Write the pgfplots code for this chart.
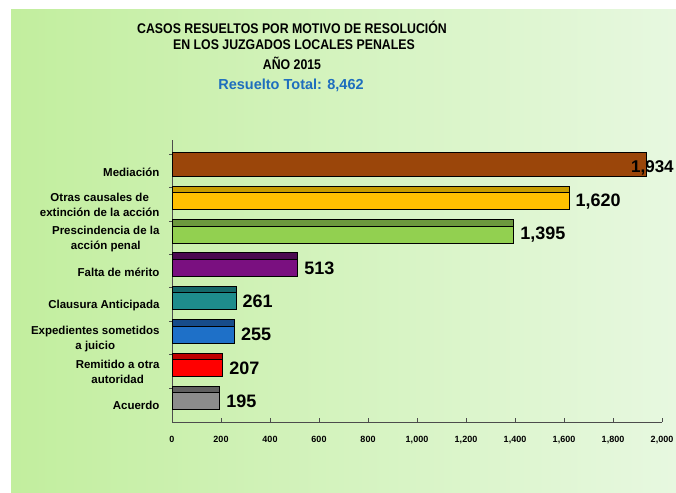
\documentclass[border=0pt]{standalone}
\usepackage{pgfplots}
\pgfplotsset{compat=1.18}
\usepackage{fontspec}
\setmainfont{Liberation Sans}
\newfontfamily\titlefont{Liberation Sans}[FakeStretch=0.88]
\definecolor{bgL}{RGB}{194,238,158}
\definecolor{bgR}{RGB}{231,248,224}
\definecolor{titleblue}{RGB}{30,110,190}
\definecolor{c1m}{RGB}{155,70,10}\definecolor{c1t}{RGB}{105,45,5}
\definecolor{c2m}{RGB}{255,192,0}\definecolor{c2t}{RGB}{200,158,0}
\definecolor{c3m}{RGB}{146,208,80}\definecolor{c3t}{RGB}{108,152,62}
\definecolor{c4m}{RGB}{122,16,128}\definecolor{c4t}{RGB}{75,10,80}
\definecolor{c5m}{RGB}{30,140,140}\definecolor{c5t}{RGB}{21,105,105}
\definecolor{c6m}{RGB}{30,112,200}\definecolor{c6t}{RGB}{23,76,138}
\definecolor{c7m}{RGB}{255,0,0}\definecolor{c7t}{RGB}{190,0,0}
\definecolor{c8m}{RGB}{140,140,140}\definecolor{c8t}{RGB}{96,96,96}
\pgfplotsset{
  mainbar/.style={xbar, bar width=23.5pt, bar shift=0pt, draw=black, line width=0.6pt, fill=#1,
    nodes near coords={\pgfmathprintnumber[assume math mode=true,1000 sep={,}]{\pgfplotspointmeta}},
    nodes near coords align={horizontal},
    every node near coord/.append style={font=\fontsize{18}{20}\selectfont\bfseries, text=black, anchor=west, xshift=3pt, yshift=-3.5pt}},
  topbar/.style={xbar, bar width=6.5pt, bar shift=8.5pt, draw=black, line width=0.6pt, fill=#1},
}
\begin{document}
\begin{tikzpicture}
\shade[left color=bgL, right color=bgR] (11pt,0pt) rectangle (676pt,482pt);
\node[font=\fontsize{14}{16}\titlefont\bfseries] at (292pt,465pt) {CASOS RESUELTOS POR MOTIVO DE RESOLUCIÓN};
\node[font=\fontsize{14}{16}\titlefont\bfseries] at (294pt,447pt) {EN LOS JUZGADOS LOCALES PENALES};
\node[font=\fontsize{14}{16}\titlefont\bfseries] at (292pt,429pt) {AÑO 2015};
\node[font=\fontsize{14.5}{16}\selectfont\bfseries, text=titleblue] at (291pt,407pt) {Resuelto Total: 8,462};
\begin{axis}[
  at={(172pt,70pt)}, anchor=south west,
  width=490pt, height=282pt, scale only axis,
  xmin=0, xmax=2000, ymin=-0.72, ymax=7.73,
  axis x line*=bottom, axis y line*=left,
  axis line style={draw=black!70, line width=0.6pt, -},
  xtick={0,200,...,2000},
  xticklabels={0,200,400,600,800,{1,000},{1,200},{1,400},{1,600},{1,800},{2,000}},
  xticklabel style={font=\fontsize{9}{10}\selectfont\bfseries, yshift=-11pt},
  ytick={0,...,7},
  yticklabels={Acuerdo,{Remitido a otra\\autoridad},{Expedientes sometidos\\a juicio},Clausura Anticipada,Falta de mérito,{Prescindencia de la\\acción penal},{Otras causales de\\extinción de la acción},Mediación},
  yticklabel style={font=\fontsize{11.5}{15}\selectfont\bfseries, align=center, yshift=-7.5pt, xshift=-9pt},
  minor ytick={0.31,1.31,2.31,3.31,4.31,5.31,6.31,7.31},
  tick align=inside,
  major tick length=4pt, minor tick length=3pt,
  major y tick style={draw=none},
  minor y tick style={draw=black!70, xshift=-3pt},
  x tick style={draw=black!70, line width=0.6pt},
  clip=false,
]
\addplot[mainbar=c8m] coordinates {(195,0)};
\addplot[topbar=c8t] coordinates {(195,0)};
\addplot[mainbar=c7m] coordinates {(207,1)};
\addplot[topbar=c7t] coordinates {(207,1)};
\addplot[mainbar=c6m] coordinates {(255,2)};
\addplot[topbar=c6t] coordinates {(255,2)};
\addplot[mainbar=c5m] coordinates {(261,3)};
\addplot[topbar=c5t] coordinates {(261,3)};
\addplot[mainbar=c4m] coordinates {(513,4)};
\addplot[topbar=c4t] coordinates {(513,4)};
\addplot[mainbar=c3m] coordinates {(1395,5)};
\addplot[topbar=c3t] coordinates {(1395,5)};
\addplot[mainbar=c2m] coordinates {(1620,6)};
\addplot[topbar=c2t] coordinates {(1620,6)};
\addplot[topbar=c1t] coordinates {(1934,7)};
\addplot[mainbar=c1m, every node near coord/.append style={font=\fontsize{17}{19}\selectfont\bfseries, inner sep=0pt, xshift=-18pt}] coordinates {(1934,7)};
\end{axis}
\pgfresetboundingbox
\useasboundingbox (0,0) rectangle (676pt,492pt);
\end{tikzpicture}
\end{document}
